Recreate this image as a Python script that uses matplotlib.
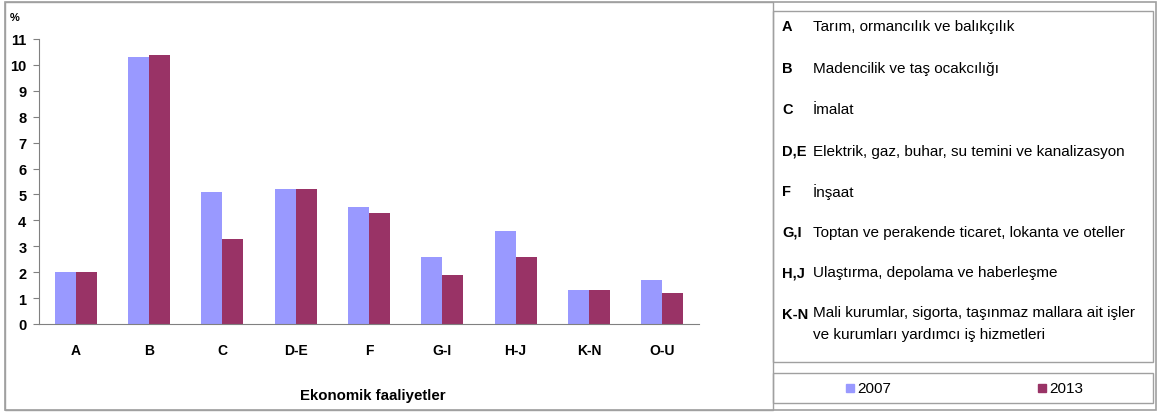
import matplotlib
matplotlib.use("Agg")
import matplotlib.pyplot as plt
from matplotlib.patches import Rectangle
import numpy as np

categories = ["A", "B", "C", "D-E", "F", "G-I", "H-J", "K-N", "O-U"]
values_2007 = [2.0, 10.3, 5.1, 5.2, 4.5, 2.6, 3.6, 1.3, 1.7]
values_2013 = [2.0, 10.4, 3.3, 5.2, 4.3, 1.9, 2.6, 1.3, 1.2]
series_labels = ["2007", "2013"]
yticks = list(range(0, 12))
key_codes = ["A", "B", "C", "D,E", "F", "G,I", "H,J", "K-N"]
key_texts = ["Tarım, ormancılık ve balıkçılık",
             "Madencilik ve taş ocakcılığı",
             "İmalat",
             "Elektrik, gaz, buhar, su temini ve kanalizasyon",
             "İnşaat",
             "Toptan ve perakende ticaret, lokanta ve oteller",
             "Ulaştırma, depolama ve haberleşme",
             "Mali kurumlar, sigorta, taşınmaz mallara ait işler\nve kurumları yardımcı iş hizmetleri"]
x_title = "Ekonomik faaliyetler"

c2007 = "#9999FF"
c2013 = "#993366"
grey = "#A0A0A0"
plt.rcParams['font.family'] = ['Liberation Sans', 'DejaVu Sans']

W, H = 1160, 414
fig = plt.figure(figsize=(W / 100, H / 100), dpi=100)

def fx(px):
    return px / W

def fy(py):
    return 1 - py / H

# frames
fig.patches.append(Rectangle((fx(5), fy(411)), fx(1156) - fx(5), fy(3) - fy(411),
                             transform=fig.transFigure, fill=False, ec=grey, lw=1.2))
fig.patches.append(Rectangle((fx(5), fy(411)), fx(773) - fx(5), fy(3) - fy(411),
                             transform=fig.transFigure, fill=False, ec=grey, lw=1.0))
fig.patches.append(Rectangle((fx(773), fy(363)), fx(1153) - fx(773), fy(12) - fy(363),
                             transform=fig.transFigure, fill=False, ec=grey, lw=1.0, fc="white"))
fig.patches.append(Rectangle((fx(773), fy(404)), fx(1153) - fx(773), fy(374) - fy(404),
                             transform=fig.transFigure, fill=False, ec=grey, lw=1.0, fc="white"))

ax = fig.add_axes([fx(39), fy(325), fx(699) - fx(39), fy(40) - fy(325)])
x = np.arange(len(categories))
bw = 0.285
ax.bar(x - bw / 2, values_2007, bw, color=c2007, label=series_labels[0])
ax.bar(x + bw / 2, values_2013, bw, color=c2013, label=series_labels[1])
ax.set_xlim(-0.5, len(categories) - 0.5)
ax.set_ylim(0, 11)
ax.set_yticks(yticks)
ax.set_yticklabels([str(t) for t in yticks], fontsize=10.5, fontweight="bold")
ax.set_xticks(x)
ax.set_xticklabels(categories, fontsize=10, fontweight="bold")
ax.tick_params(axis="x", length=0, pad=14)
ax.tick_params(axis="y", length=4, color="#808080", pad=5)
for s in ["top", "right"]:
    ax.spines[s].set_visible(False)
for s in ["left", "bottom"]:
    ax.spines[s].set_color("#808080")
fig.text(fx(15), fy(18), "%", fontsize=8, fontweight="bold", ha="center", va="center")
fig.text(fx(373), fy(396), x_title, fontsize=10.8, fontweight="bold", ha="center", va="center")

# key text box
rows_y = [27, 69, 110, 152, 192, 233, 273, 315]
for code, txt, yy in zip(key_codes, key_texts, rows_y):
    fig.text(fx(782), fy(yy), code, fontsize=10.5, fontweight="bold", ha="left", va="center")
    if "\n" in txt:
        fig.text(fx(813), fy(yy - 9), txt, fontsize=11, ha="left", va="top", linespacing=1.75)
    else:
        fig.text(fx(813), fy(yy), txt, fontsize=11, ha="left", va="center")

# series legend
for col, lab, lx in [(c2007, series_labels[0], 846), (c2013, series_labels[1], 1038)]:
    fig.patches.append(Rectangle((fx(lx), fy(393)), fx(8), fy(385) - fy(393),
                                 transform=fig.transFigure, color=col))
    fig.text(fx(lx + 11), fy(389), lab, fontsize=11, ha="left", va="center")

fig.savefig("out.png", dpi=100)
